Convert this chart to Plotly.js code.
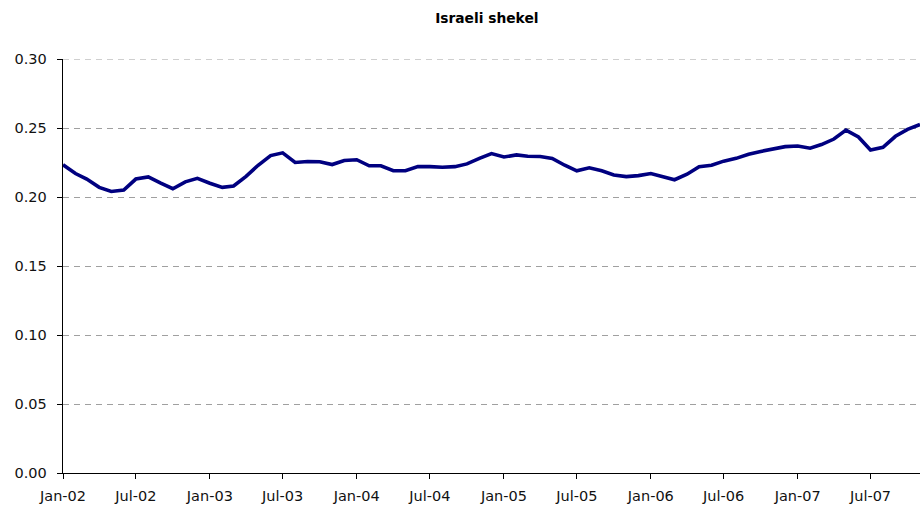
<!DOCTYPE html>
<html>
<head>
<meta charset="utf-8">
<script src="https://cdn.plot.ly/plotly-3.0.1.min.js"></script>
<style>html,body{margin:0;padding:0;background:#fff;}#chart{width:922px;height:515px;}</style>
</head>
<body>
<div id="chart"></div>
<script>
const months = ["2002-01","2002-02","2002-03","2002-04","2002-05","2002-06","2002-07","2002-08","2002-09","2002-10","2002-11","2002-12",
"2003-01","2003-02","2003-03","2003-04","2003-05","2003-06","2003-07","2003-08","2003-09","2003-10","2003-11","2003-12",
"2004-01","2004-02","2004-03","2004-04","2004-05","2004-06","2004-07","2004-08","2004-09","2004-10","2004-11","2004-12",
"2005-01","2005-02","2005-03","2005-04","2005-05","2005-06","2005-07","2005-08","2005-09","2005-10","2005-11","2005-12",
"2006-01","2006-02","2006-03","2006-04","2006-05","2006-06","2006-07","2006-08","2006-09","2006-10","2006-11","2006-12",
"2007-01","2007-02","2007-03","2007-04","2007-05","2007-06","2007-07","2007-08","2007-09","2007-10","2007-11"];
const shekel = [0.2233,0.217,0.213,0.207,0.204,0.205,0.213,0.2145,0.210,0.206,0.211,0.2135,
0.210,0.207,0.208,0.215,0.223,0.230,0.232,0.225,0.2257,0.2255,0.2235,0.2265,
0.227,0.2226,0.2226,0.219,0.219,0.222,0.222,0.2216,0.222,0.224,0.228,0.2315,
0.229,0.2305,0.2295,0.2293,0.228,0.223,0.219,0.2212,0.219,0.216,0.2148,0.2155,
0.217,0.2145,0.2125,0.2165,0.222,0.223,0.226,0.228,0.231,0.233,0.235,0.2365,
0.237,0.2354,0.238,0.242,0.2485,0.2435,0.234,0.236,0.244,0.249,0.2525];
const tickDates = ["2002-01","2002-07","2003-01","2003-07","2004-01","2004-07","2005-01","2005-07","2006-01","2006-07","2007-01","2007-07"];
const tickLabels = ["Jan-02","Jul-02","Jan-03","Jul-03","Jan-04","Jul-04","Jan-05","Jul-05","Jan-06","Jul-06","Jan-07","Jul-07"];
const yTicks = [0,0.05,0.10,0.15,0.20,0.25,0.30];

const FONT = "DejaVu Sans, Verdana, sans-serif";
const trace = {
  x: months.map(m => m + "-01"),
  y: shekel,
  type: "scatter",
  mode: "lines",
  line: {color: "#000080", width: 3.6},
  hoverinfo: "skip"
};
const layout = {
  width: 922, height: 515,
  margin: {l: 63, r: 2, t: 59, b: 42},
  paper_bgcolor: "#fff", plot_bgcolor: "#fff",
  showlegend: false,
  font: {family: FONT, size: 14, color: "#111"},
  title: {text: "<b>Israeli shekel</b>", x: 0.528, xanchor: "center", y: 0.965, yanchor: "middle",
          font: {family: FONT, size: 13.8, color: "#000"}},
  xaxis: {
    type: "date",
    range: ["2002-01-01", "2007-11-01"],
    tickvals: tickDates.map(d => d + "-01"),
    ticktext: tickLabels,
    showgrid: false, zeroline: false,
    showline: true, linecolor: "#000", linewidth: 1.3,
    ticks: "outside", ticklen: 5, tickcolor: "#000", tickwidth: 1,
    ticklabelstandoff: 4,
    tickfont: {family: FONT, size: 14.5, color: "#111"},
    fixedrange: true
  },
  yaxis: {
    range: [0, 0.30],
    tickvals: yTicks,
    tickformat: ".2f",
    showgrid: true, gridcolor: "#a0a0a0", griddash: "6px,5px", gridwidth: 1,
    zeroline: false,
    showline: true, linecolor: "#000", linewidth: 1.3,
    ticks: "outside", ticklen: 5, tickcolor: "#000", tickwidth: 1,
    ticklabelstandoff: 7,
    tickfont: {family: FONT, size: 14.5, color: "#111"},
    fixedrange: true
  },
  shapes: [{
    type: "line", xref: "paper", x0: 0, x1: 1, yref: "y", y0: 0.30, y1: 0.30,
    line: {color: "#a0a0a0", width: 1, dash: "6px,5px"}, layer: "below"
  }]
};
Plotly.newPlot("chart", [trace], layout, {displayModeBar: false, staticPlot: true});
</script>
</body>
</html>
